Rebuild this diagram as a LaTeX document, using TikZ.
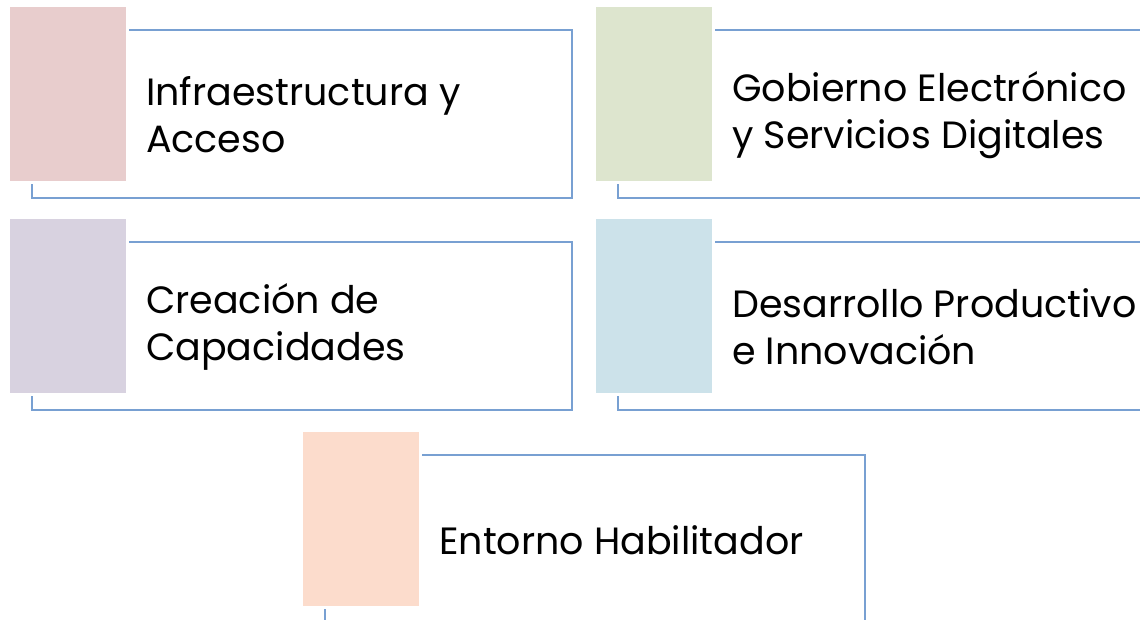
\documentclass[tikz,border=0pt]{standalone}
\usepackage{fontspec}
\setmainfont{Poppins}
\usepackage{tikz}

\definecolor{lineblue}{RGB}{120,160,210}
\definecolor{pinkA}{RGB}{232,205,205}
\definecolor{greenA}{RGB}{221,229,206}
\definecolor{purpleA}{RGB}{216,210,224}
\definecolor{blueA}{RGB}{204,226,234}
\definecolor{peachA}{RGB}{252,220,204}

\tikzset{
  frame/.style={draw=lineblue, line width=1.6pt, minimum width=540pt, minimum height=168pt, inner sep=0pt, outer sep=0pt, anchor=north west},
  tab/.style={draw=white, line width=3pt, minimum width=119pt, minimum height=177pt, inner sep=0pt, outer sep=0pt, anchor=north west},
  label/.style={anchor=west, align=left, inner sep=0pt, font=\fontsize{38}{47}\selectfont}
}

\begin{document}
\begin{tikzpicture}[x=1pt,y=-1pt]
\useasboundingbox (0,0) rectangle (1140,620);

\foreach \n/\x/\y/\c/\t in {
  1/10/7/pinkA/{Infraestructura y\\Acceso},
  2/596/7/greenA/{Gobierno Electrónico\\y Servicios Digitales},
  3/10/219/purpleA/{Creación de\\Capacidades},
  4/596/219/blueA/{Desarrollo Productivo\\e Innovación},
  5/303/432/peachA/{Entorno Habilitador}} {
\node[frame] (fr\n) at (\x+22, \y+23) {};
\node[tab, fill=\c] (sq\n) at (\x-1.5, \y-1.5) {};
\node[label] (tx\n) at (\x+136, \y+108) {\t};
}

\end{tikzpicture}
\end{document}
